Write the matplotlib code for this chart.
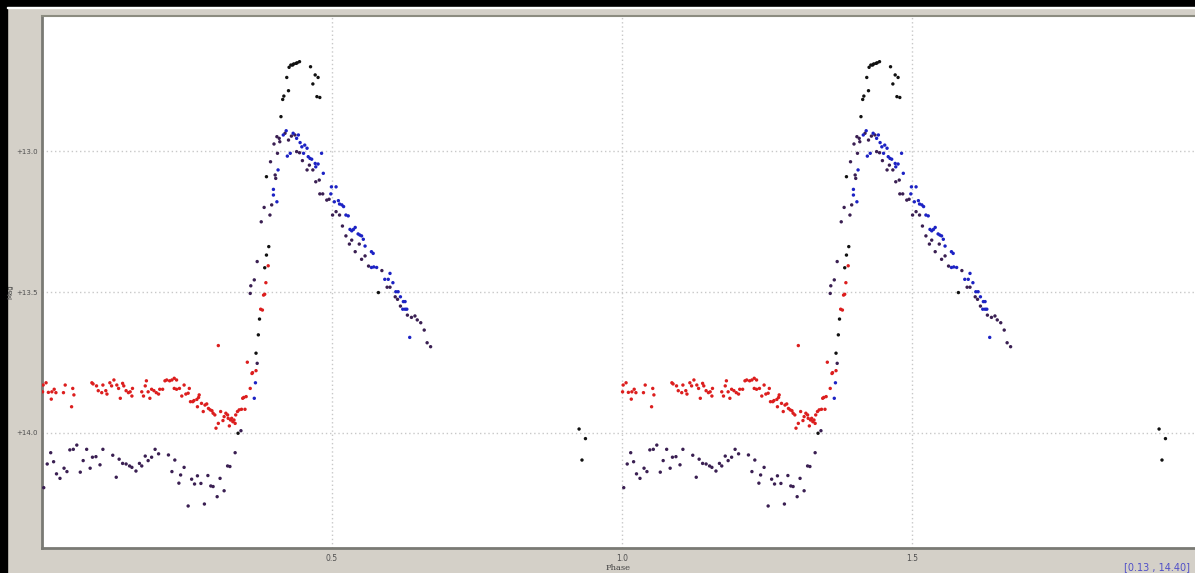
import matplotlib
matplotlib.use("Agg")
import matplotlib.pyplot as plt
from matplotlib.patches import Rectangle

# Phased light curve, one cycle (plotted twice: phase and phase + 1)
red_phase = [0.002, 0.007, 0.001, 0.011, 0.017, 0.021, 0.024, 0.016, 0.037, 0.040, 0.053, 0.055, 0.051,
             0.086, 0.088, 0.094, 0.097, 0.105, 0.103, 0.110, 0.112, 0.117, 0.120, 0.124, 0.129, 0.132,
             0.135, 0.139, 0.141, 0.145, 0.149, 0.152, 0.155, 0.156, 0.172, 0.175, 0.178, 0.180, 0.183,
             0.186, 0.189, 0.193, 0.197, 0.201, 0.203, 0.208, 0.212, 0.215, 0.220, 0.224, 0.228, 0.232,
             0.228, 0.232, 0.237, 0.241, 0.245, 0.248, 0.252,
             0.254, 0.256, 0.260, 0.262, 0.267, 0.270, 0.271, 0.268, 0.275, 0.278, 0.281, 0.284, 0.287,
             0.290, 0.293, 0.295, 0.298, 0.300, 0.304, 0.308, 0.312, 0.314, 0.317, 0.320, 0.321, 0.323,
             0.325, 0.327, 0.329, 0.331, 0.333, 0.334, 0.337, 0.340, 0.344, 0.350, 0.346, 0.348, 0.352,
             0.359, 0.362, 0.369, 0.304,
             0.354, 0.363, 0.377, 0.380, 0.382, 0.384, 0.386, 0.390]
red_mag = [13.830, 13.822, 13.854, 13.856, 13.854, 13.845, 13.857, 13.880, 13.857, 13.830, 13.842, 13.865, 13.907,
           13.822, 13.826, 13.833, 13.850, 13.830, 13.857, 13.850, 13.862, 13.822, 13.833, 13.812, 13.830, 13.842,
           13.877, 13.824, 13.833, 13.850, 13.857, 13.854, 13.869, 13.842, 13.854, 13.869, 13.833, 13.815, 13.854,
           13.877, 13.845, 13.850, 13.857, 13.862, 13.845, 13.845, 13.815, 13.812, 13.815, 13.812, 13.806, 13.812,
           13.842, 13.845, 13.842, 13.869, 13.830, 13.862, 13.859,
           13.842, 13.889, 13.889, 13.885, 13.881, 13.874, 13.865, 13.907, 13.895, 13.924, 13.901, 13.897, 13.913,
           13.918, 13.921, 13.930, 13.936, 13.983, 13.966, 13.924, 13.956, 13.942, 13.930, 13.936, 13.948, 13.975,
           13.954, 13.948, 13.960, 13.954, 13.966, 13.936, 13.924, 13.918, 13.916, 13.916, 13.877, 13.874, 13.871,
           13.842, 13.789, 13.779, 13.690,
           13.749, 13.786, 13.561, 13.564, 13.511, 13.508, 13.467, 13.407]

purple_phase = [0.003, 0.009, 0.015, 0.020, 0.025, 0.031, 0.038, 0.043, 0.048, 0.054, 0.060, 0.066, 0.071,
                0.077, 0.083, 0.087, 0.093, 0.100, 0.105, 0.122, 0.128, 0.133, 0.139, 0.145, 0.151, 0.155,
                0.162, 0.168, 0.172, 0.178, 0.183, 0.189, 0.195, 0.201, 0.218, 0.224, 0.229, 0.236, 0.239,
                0.245, 0.252, 0.258, 0.263, 0.268, 0.274, 0.280, 0.286, 0.291, 0.295, 0.302, 0.307, 0.314,
                0.320, 0.324, 0.333, 0.343,
                0.371, 0.360, 0.359, 0.366, 0.371, 0.378, 0.383, 0.393, 0.396, 0.394, 0.402, 0.403, 0.406,
                0.400, 0.405, 0.409, 0.410, 0.419, 0.425, 0.430, 0.436, 0.439, 0.444, 0.449, 0.457, 0.461,
                0.467, 0.472, 0.478, 0.479, 0.484, 0.491, 0.495, 0.501, 0.507, 0.513, 0.518, 0.524, 0.530,
                0.534, 0.540, 0.547, 0.551, 0.557, 0.563, 0.586, 0.595, 0.600, 0.609, 0.613, 0.618, 0.630,
                0.637, 0.643, 0.647, 0.653, 0.659, 0.664, 0.670]
purple_mag = [14.194, 14.110, 14.070, 14.102, 14.145, 14.161, 14.125, 14.137, 14.060, 14.058, 14.043, 14.139, 14.098,
              14.058, 14.125, 14.086, 14.084, 14.113, 14.058, 14.079, 14.157, 14.093, 14.108, 14.110, 14.117, 14.122,
              14.135, 14.108, 14.117, 14.082, 14.098, 14.086, 14.058, 14.074, 14.078, 14.137, 14.096, 14.178, 14.149,
              14.122, 14.259, 14.164, 14.181, 14.152, 14.179, 14.252, 14.151, 14.188, 14.190, 14.226, 14.161, 14.205,
              14.117, 14.119, 14.070, 13.992,
              13.753, 13.478, 13.505, 13.457, 13.392, 13.251, 13.200, 13.227, 13.191, 13.038, 13.085, 13.097, 13.008,
              12.975, 12.949, 12.955, 12.967, 12.937, 12.961, 12.947, 12.943, 13.002, 13.006, 13.034, 13.067, 13.050,
              13.067, 13.109, 13.103, 13.152, 13.152, 13.174, 13.171, 13.227, 13.215, 13.227, 13.266, 13.301, 13.330,
              13.316, 13.357, 13.330, 13.384, 13.372, 13.408, 13.424, 13.483, 13.483, 13.517, 13.526, 13.550, 13.582,
              13.590, 13.585, 13.599, 13.609, 13.635, 13.680, 13.694]

blue_phase = [0.368, 0.366, 0.399, 0.399, 0.405, 0.407, 0.416, 0.421, 0.423, 0.428, 0.433, 0.439, 0.442,
              0.445, 0.448, 0.451, 0.453, 0.457, 0.459, 0.462, 0.465, 0.471, 0.472, 0.476, 0.482, 0.485,
              0.498, 0.499, 0.507, 0.504, 0.511, 0.513, 0.517, 0.520, 0.524, 0.528, 0.531, 0.534, 0.537,
              0.540, 0.545, 0.548, 0.551, 0.554, 0.557, 0.568, 0.571, 0.568, 0.572, 0.577, 0.591, 0.597,
              0.600, 0.605, 0.610, 0.614, 0.618, 0.623, 0.626, 0.622, 0.626, 0.629, 0.634]
blue_mag = [13.822, 13.877, 13.156, 13.136, 13.180, 13.067, 12.943, 12.928, 13.018, 13.008, 12.937, 12.955, 12.943,
            12.970, 12.985, 13.008, 12.979, 12.990, 13.020, 13.026, 13.029, 13.044, 13.056, 13.046, 13.008, 13.079,
            13.152, 13.127, 13.127, 13.180, 13.176, 13.188, 13.191, 13.197, 13.227, 13.230, 13.278, 13.283, 13.278,
            13.271, 13.294, 13.298, 13.301, 13.313, 13.337, 13.357, 13.363, 13.413, 13.411, 13.413, 13.455, 13.455,
            13.434, 13.467, 13.499, 13.499, 13.517, 13.534, 13.534, 13.561, 13.561, 13.561, 13.661]

black_phase = [0.412, 0.415, 0.417, 0.422, 0.425, 0.426, 0.429, 0.432, 0.434, 0.438, 0.440, 0.444, 0.463,
               0.467, 0.471, 0.476, 0.474, 0.479, 0.373, 0.369, 0.375, 0.384, 0.387, 0.391, 0.387, 0.580,
               0.338, 0.926, 0.937, 0.931]
black_mag = [12.878, 12.817, 12.805, 12.739, 12.786, 12.703, 12.695, 12.695, 12.691, 12.689, 12.687, 12.683, 12.701,
             12.762, 12.730, 12.739, 12.807, 12.810, 13.652, 13.717, 13.596, 13.414, 13.369, 13.339, 13.091, 13.502,
             14.001, 13.986, 14.020, 14.096]

x_ticks = [0.5, 1.0, 1.5]
y_ticks = [13.0, 13.5, 14.0]
cursor_text = "[0.13 , 14.40]"

W, H = 1195, 573
fig = plt.figure(figsize=(W / 100, H / 100), dpi=100)
fig.patch.set_facecolor("#d4d0c8")

# window edges
fig.add_artist(Rectangle((0, 1 - 7 / H), 1, 7 / H, transform=fig.transFigure, color="black", zorder=0))
fig.add_artist(Rectangle((0, 0), 7 / W, 1, transform=fig.transFigure, color="black", zorder=0))
fig.add_artist(Rectangle((7 / W, 1 - 8 / H), 1, 1 / H, transform=fig.transFigure, color="white", zorder=0))

ax = fig.add_axes([42 / W, 25 / H, 1 - 42 / W, 532 / H])
ax.set_facecolor("white")

series = [
    (red_phase, red_mag, "#dc1e1e"),
    (purple_phase, purple_mag, "#3a1f52"),
    (blue_phase, blue_mag, "#1c22c4"),
    (black_phase, black_mag, "#111111"),
]
for ph, mag, col in series:
    for shift in (0.0, 1.0):
        ax.scatter([p + shift for p in ph], mag, s=6, c=col, edgecolors="none", zorder=3)

ax.set_xlim(0, (W - 42) / 580)
ax.set_ylim(14.408, 12.521)

ax.set_xticks(x_ticks)
ax.set_xticklabels(["%.1f" % t for t in x_ticks])
ax.set_yticks(y_ticks)
ax.set_yticklabels(["+%.1f" % t for t in y_ticks])
ax.tick_params(axis="x", length=0, labelsize=5.5, labelcolor="#505050", pad=4)
ax.tick_params(axis="y", length=0, labelsize=5, labelcolor="#505050", pad=3)
ax.grid(True, color="#c8c8c8", linestyle=(0, (1, 2)), linewidth=1)

for side in ("left", "bottom"):
    ax.spines[side].set_color("#7a7a74")
    ax.spines[side].set_linewidth(2)
ax.spines["top"].set_color("#8c8c80")
ax.spines["top"].set_linewidth(1.5)
ax.spines["right"].set_visible(False)

ax.set_xlabel("Phase", fontsize=6, color="#404040", labelpad=1, family="DejaVu Serif")
fig.text(10.5 / W, 1 - 292 / H, "Mag", fontsize=5, color="#404040", rotation=90,
         ha="center", va="center")

fig.text(1190 / W, 1 - 567 / H, cursor_text, fontsize=7, color="#5050c8", ha="right", va="center")

fig.savefig("out.png", dpi=100, facecolor=fig.get_facecolor())
